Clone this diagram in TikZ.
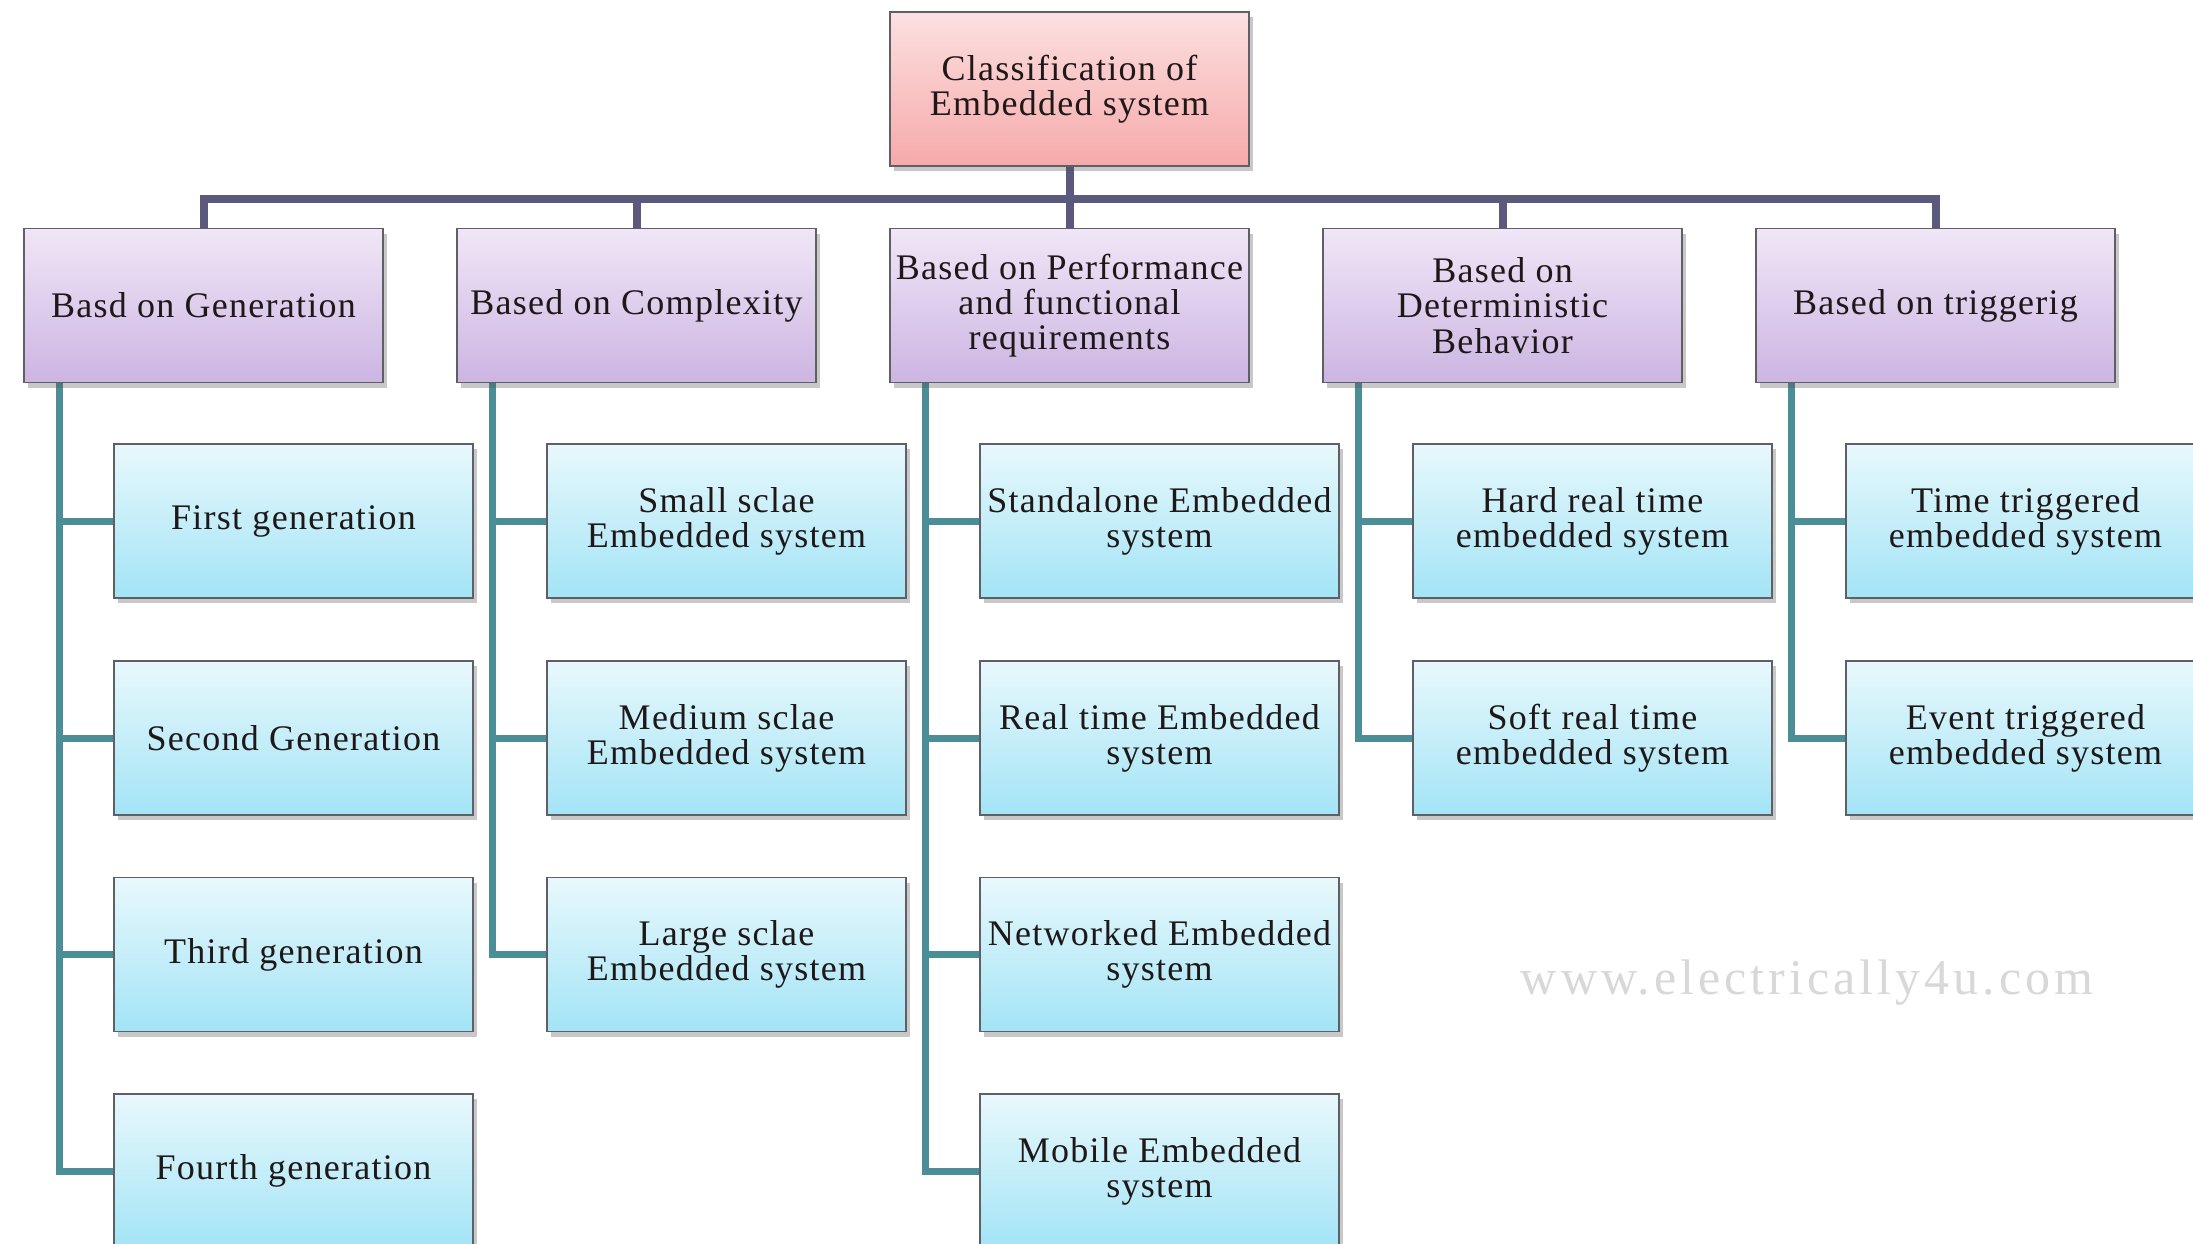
\documentclass[tikz,border=0pt]{standalone}
\usepackage{fontspec}
\setmainfont{Liberation Serif}
\newfontfamily\boxfont[LetterSpace=3.5]{Liberation Serif}
\newfontfamily\wmfont[LetterSpace=8]{Liberation Serif}
\usetikzlibrary{shadows,backgrounds}
\definecolor{pinktop}{HTML}{FCE0E0}
\definecolor{pinkbot}{HTML}{F6A9AA}
\definecolor{lavtop}{HTML}{F0E6F7}
\definecolor{lavbot}{HTML}{CCB5E2}
\definecolor{cyantop}{HTML}{E8F8FC}
\definecolor{cyanbot}{HTML}{A3E4F6}
\definecolor{boxborder}{HTML}{5E6066}
\definecolor{topcol}{HTML}{5C5A7C}
\definecolor{leafcol}{HTML}{4C8E98}
\definecolor{txt}{HTML}{1E1818}
\definecolor{wmark}{HTML}{D8D8D8}
\begin{document}
\begin{tikzpicture}[x=0.5pt,y=-0.5pt,
  box/.style={draw=boxborder, line width=0.8pt, minimum width=179.5pt, minimum height=77pt,
    inner sep=0pt, align=center, font=\boxfont\fontsize{18}{17.6}\selectfont, text=txt,
    drop shadow={shadow xshift=2pt,shadow yshift=-2.5pt,opacity=0.3,fill=black!70}},
  rootbox/.style={box, top color=pinktop, bottom color=pinkbot},
  catbox/.style={box, top color=lavtop, bottom color=lavbot},
  leafbox/.style={box, top color=cyantop, bottom color=cyanbot},
  topline/.style={draw=topcol, line width=4pt},
  leafline/.style={draw=leafcol, line width=3.5pt},
  wm/.style={text=wmark, font=\wmfont\fontsize{25}{28}\selectfont}
]
\useasboundingbox (0,0) rectangle (2193,1243);
\clip (0,0) rectangle (2193,1243);

% root and categories
\node[rootbox] (root) at (1069.5,89) {Classification of\\Embedded system};
\node[catbox] (c1) at (203.5,305.5) {Basd on Generation};
\node[catbox] (c2) at (636.5,305.5) {Based on Complexity};
\node[catbox] (c3) at (1069.5,305.5) {Based on Performance\\and functional\\requirements};
\node[catbox] (c4) at (1502.5,305.5) {Based on\\Deterministic\\Behavior};
\node[catbox] (c5) at (1935.5,305.5) {Based on triggerig};

% leaves
\node[leafbox] (g1) at (293.5,521) {First generation};
\node[leafbox] (g2) at (293.5,738) {Second Generation};
\node[leafbox] (g3) at (293.5,954.5) {Third generation};
\node[leafbox] (g4) at (293.5,1171) {Fourth generation};

\node[leafbox] (x1) at (726.5,521) {Small sclae\\Embedded system};
\node[leafbox] (x2) at (726.5,738) {Medium sclae\\Embedded system};
\node[leafbox] (x3) at (726.5,954.5) {Large sclae\\Embedded system};

\node[leafbox] (p1) at (1159.5,521) {Standalone Embedded\\system};
\node[leafbox] (p2) at (1159.5,738) {Real time Embedded\\system};
\node[leafbox] (p3) at (1159.5,954.5) {Networked Embedded\\system};
\node[leafbox] (p4) at (1159.5,1171) {Mobile Embedded\\system};

\node[leafbox] (d1) at (1592.5,521) {Hard real time\\embedded system};
\node[leafbox] (d2) at (1592.5,738) {Soft real time\\embedded system};

\node[leafbox] (t1) at (2025.5,521) {Time triggered\\embedded system};
\node[leafbox] (t2) at (2025.5,738) {Event triggered\\embedded system};

\node[wm] (wmk) at (1807,983) {www.electrically4u.com};

\coordinate (bar) at (0,199);

\begin{scope}[on background layer]
\fill[white] (0,0) rectangle (2193,1243);
\foreach \c in {c1,c2,c3,c4,c5}
  \draw[topline] (root.south) -- (root.south |- bar) -| (\c.north);
\foreach \c/\l in {c1/g1,c1/g2,c1/g3,c1/g4,c2/x1,c2/x2,c2/x3,c3/p1,c3/p2,c3/p3,c3/p4,c4/d1,c4/d2,c5/t1,c5/t2}
  \draw[leafline] ([xshift=18pt]\c.south west) |- (\l.west);
\end{scope}
\end{tikzpicture}
\end{document}
